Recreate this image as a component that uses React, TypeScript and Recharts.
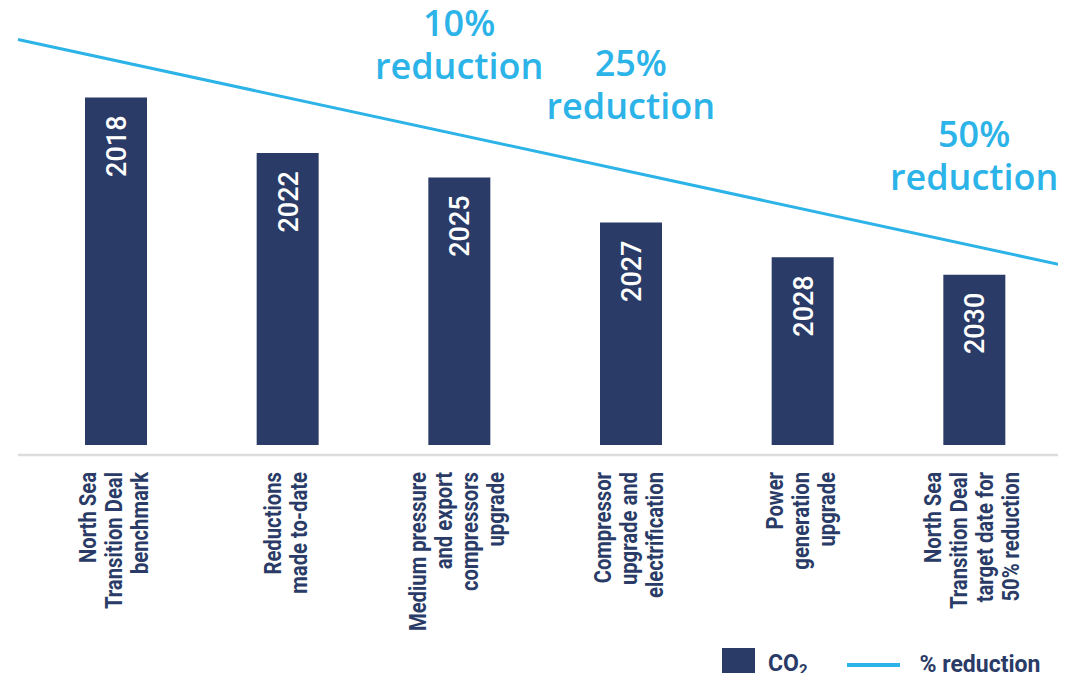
import React from "react";
import {
  ComposedChart,
  Bar,
  Line,
  XAxis,
  YAxis,
  Legend,
  LabelList,
  ReferenceDot,
} from "recharts";

// categories (x axis labels, one entry per line of text)
const categoryLines = [
  ["North Sea", "Transition Deal", "benchmark"],
  ["Reductions", "made to-date"],
  ["Medium pressure", "and export", "compressors", "upgrade"],
  ["Compressor", "upgrade and", "electrification"],
  ["Power", "generation", "upgrade"],
  ["North Sea", "Transition Deal", "target date for", "50% reduction"],
];
const years = ["2018", "2022", "2025", "2027", "2028", "2030"];
// CO2 emissions, indexed to the 2018 benchmark = 100
const co2 = [100, 84, 77, 64, 54, 49];

// % reduction trend line (start and end of the line)
const trendPos = [0, 1];
const trendValues = [116.7, 51.9];

// annotations above the trend line
const noteCategory = [2, 3, 5];
const noteTop = ["10%", "25%", "50%"];
const noteBottom = ["reduction", "reduction", "reduction"];
const noteValue = [105.2, 93.7, 73.5];

const NAVY = "#293b66";
const BLUE = "#2cb3e8";
const LABEL_FONT = "Roboto, sans-serif";

const data = categoryLines.map((lines, i) => ({
  name: lines.join(" "),
  year: years[i],
  co2: co2[i],
}));

const trendData = trendPos.map((t, i) => ({ t, reduction: trendValues[i] }));

function CategoryTick(props: any) {
  const { x, y, payload } = props;
  const lines = categoryLines[payload.index] || [];
  const n = lines.length;
  const top = y + 9;
  return (
    <g>
      {lines.map((line, i) => {
        const bx = x + 6 + (i - (n - 1) / 2) * 26;
        return (
          <text
            key={i}
            x={0}
            y={0}
            transform={`translate(${bx}, ${top}) rotate(-90) scale(0.88, 1)`}
            textAnchor="end"
            fill={NAVY}
            fontFamily={LABEL_FONT}
            fontWeight={700}
            fontSize={23}
          >
            {line}
          </text>
        );
      })}
    </g>
  );
}

function YearLabel(props: any) {
  const { x, y, width, value } = props;
  const bx = x + width / 2 + 10;
  const ty = y + 18;
  return (
    <text
      x={bx}
      y={ty}
      transform={`rotate(-90, ${bx}, ${ty})`}
      textAnchor="end"
      fill="#ffffff"
      fontFamily="Roboto, sans-serif"
      fontWeight={500}
      fontSize={27}
    >
      {value}
    </text>
  );
}

function NoteLabel({ viewBox, top, bottom }: any) {
  const cx = viewBox.x + viewBox.width / 2;
  const cy = viewBox.y + viewBox.height / 2;
  return (
    <g
      fill={BLUE}
      fontFamily="'Open Sans', sans-serif"
      fontWeight={600}
      fontSize={36}
      textAnchor="middle"
    >
      <text x={cx} y={cy - 43}>
        {top}
      </text>
      <text x={cx} y={cy}>
        {bottom}
      </text>
    </g>
  );
}

function LegendContent() {
  return (
    <div
      style={{
        display: "flex",
        alignItems: "center",
        height: 33,
        fontFamily: LABEL_FONT,
        fontWeight: 700,
        fontSize: 23,
        color: NAVY,
        whiteSpace: "nowrap",
      }}
    >
      <span
        style={{
          display: "inline-block",
          width: 33,
          height: 33,
          background: NAVY,
          marginRight: 13,
          alignSelf: "flex-start",
        }}
      />
      <span>
        CO<sub style={{ fontSize: "0.65em", verticalAlign: "-0.25em" }}>2</sub>
      </span>
      <span
        style={{
          display: "inline-block",
          width: 53,
          height: 4,
          background: BLUE,
          marginLeft: 40,
          marginRight: 19,
        }}
      />
      <span>% reduction</span>
    </div>
  );
}

export default function App() {
  return (
    <ComposedChart
      width={1058}
      height={665}
      data={data}
      margin={{ top: 20, right: 6, left: 10, bottom: 38 }}
    >
      <XAxis
        dataKey="name"
        padding={{ left: 12, right: 0 }}
        height={180}
        axisLine={{ stroke: "#dcdcdc", strokeWidth: 2.5 }}
        tickLine={false}
        tick={<CategoryTick />}
        interval={0}
      />
      <XAxis
        xAxisId="trend"
        type="number"
        dataKey="t"
        domain={[0, 1]}
        hide
      />
      <YAxis domain={[-2.9, 120]} hide />
      <Legend
        layout="horizontal"
        verticalAlign="middle"
        align="center"
        wrapperStyle={{ top: 640, left: 714, width: 340 }}
        content={<LegendContent />}
      />
      <Bar dataKey="co2" fill={NAVY} barSize={62} isAnimationActive={false}>
        <LabelList dataKey="year" content={<YearLabel />} />
      </Bar>
      <Line
        xAxisId="trend"
        data={trendData}
        dataKey="reduction"
        stroke={BLUE}
        strokeWidth={3}
        dot={false}
        activeDot={false}
        isAnimationActive={false}
      />
      {noteCategory.map((c, i) => (
        <ReferenceDot
          key={i}
          x={data[c].name}
          y={noteValue[i]}
          r={0}
          fill="none"
          stroke="none"
          label={<NoteLabel top={noteTop[i]} bottom={noteBottom[i]} />}
        />
      ))}
    </ComposedChart>
  );
}
